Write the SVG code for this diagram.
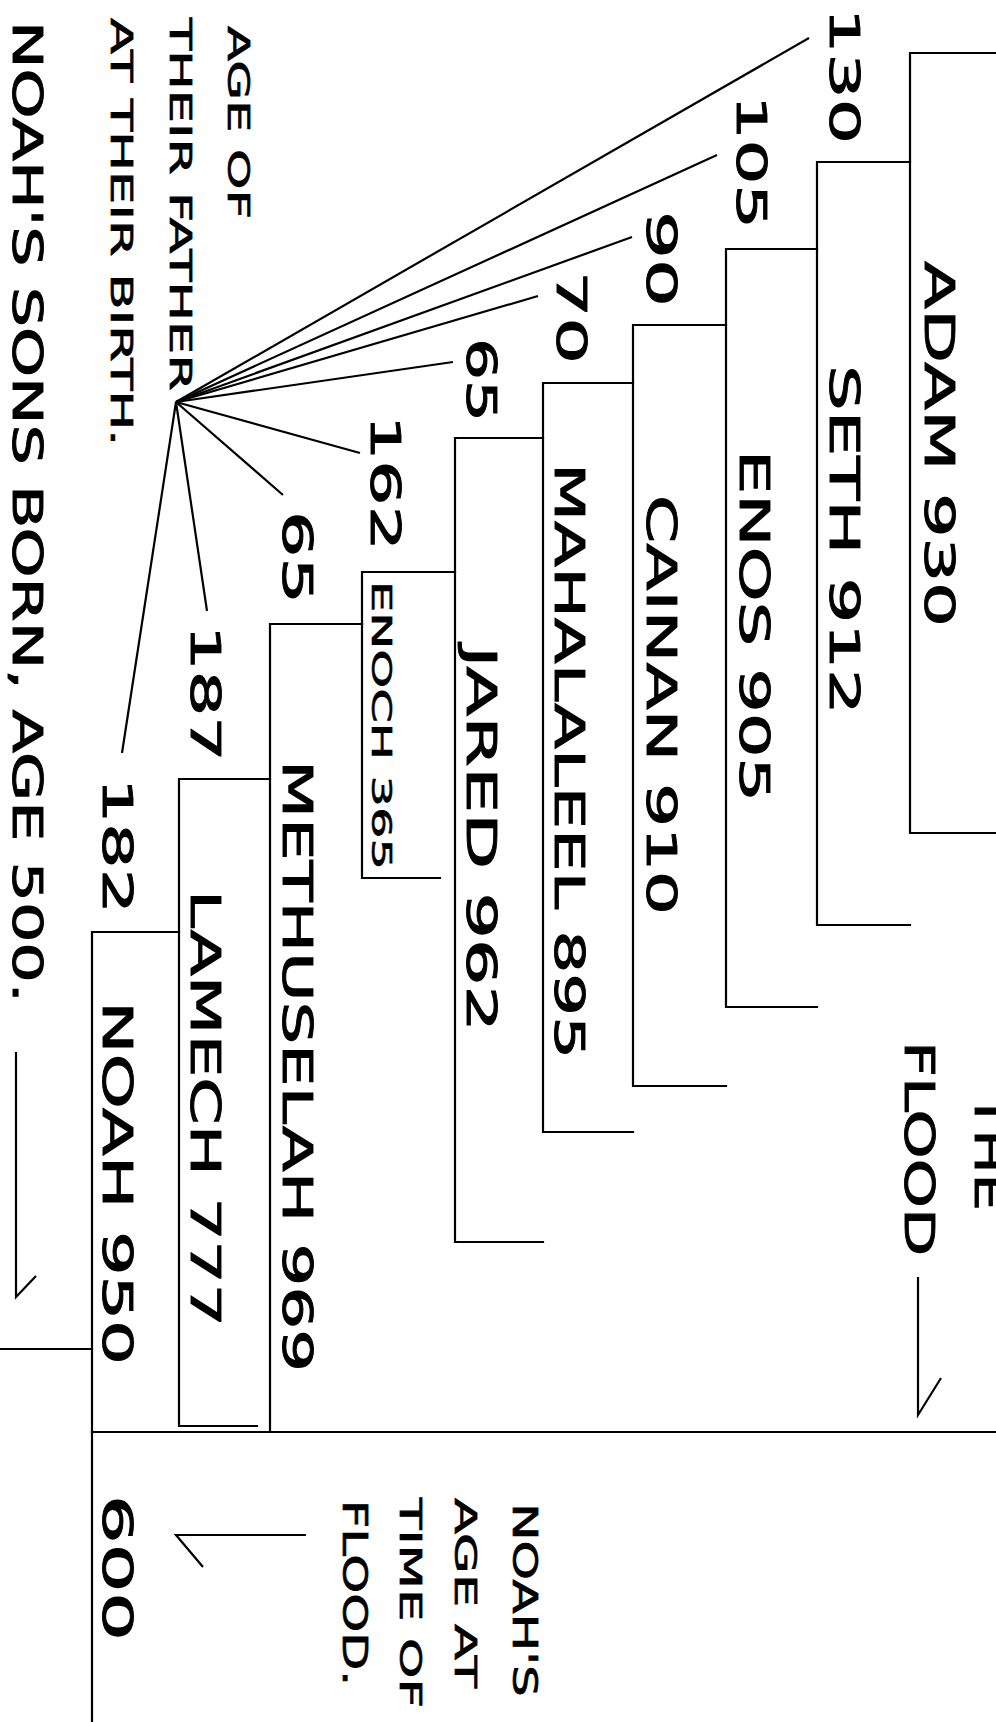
<svg xmlns="http://www.w3.org/2000/svg" width="996" height="1722" viewBox="0 0 996 1722">
<style>
  .ln { fill: none; stroke: #000; stroke-width: 2.2; stroke-linecap: square; }
  .fan { fill: none; stroke: #000; stroke-width: 2.2; }
  text { font-family: "DejaVu Sans", "Liberation Sans", sans-serif; fill: #000; stroke: #000; stroke-width: 0.9; }
  .name { font-size: 41px; }
  .lab { font-size: 31px; stroke-width: 0.7; }
  .enoch { font-size: 26px; stroke-width: 0.6; }
  .big { font-size: 40px; }
</style>
<rect x="0" y="0" width="996" height="1722" fill="#fff"/>

<g id="adam">
  <path class="ln" d="M996,53 H910 V833 H996"/>
  <text class="name" transform="translate(925,261) rotate(90)" textLength="366" lengthAdjust="spacingAndGlyphs">ADAM 930</text>
</g>
<g id="seth">
  <path class="ln" d="M910,162 H817 V925 H910"/>
  <text class="name" transform="translate(830,365) rotate(90)" textLength="350" lengthAdjust="spacingAndGlyphs">SETH 912</text>
</g>
<g id="enos">
  <path class="ln" d="M817,249 H726 V1007 H817"/>
  <text class="name" transform="translate(740,450) rotate(90)" textLength="352" lengthAdjust="spacingAndGlyphs">ENOS 905</text>
</g>
<g id="cainan">
  <path class="ln" d="M726,325 H633 V1086 H726"/>
  <text class="name" transform="translate(647,495) rotate(90)" textLength="420" lengthAdjust="spacingAndGlyphs">CAINAN 910</text>
</g>
<g id="mahalaleel">
  <path class="ln" d="M633,383 H543 V1132 H633"/>
  <text class="name" transform="translate(555,463) rotate(90)" textLength="596" lengthAdjust="spacingAndGlyphs">MAHALALEEL 895</text>
</g>
<g id="jared">
  <path class="ln" d="M543,438 H455 V1242 H543"/>
  <text class="name" transform="translate(467,646) rotate(90)" textLength="386" lengthAdjust="spacingAndGlyphs">JARED 962</text>
</g>
<g id="enoch">
  <path class="ln" d="M455,572 H362 V878 H440"/>
  <text class="enoch" transform="translate(372,581) rotate(90)" textLength="289" lengthAdjust="spacingAndGlyphs">ENOCH 365</text>
</g>
<g id="methuselah">
  <path class="ln" d="M362,624 H270 V1432"/>
  <text class="name" transform="translate(283,760) rotate(90)" textLength="612" lengthAdjust="spacingAndGlyphs">METHUSELAH 969</text>
</g>
<g id="lamech">
  <path class="ln" d="M270,779 H179 V1426 H257"/>
  <text class="name" transform="translate(191,890) rotate(90)" textLength="437" lengthAdjust="spacingAndGlyphs">LAMECH 777</text>
</g>
<g id="noah">
  <path class="ln" d="M179,932 H92 V1722"/>
  <path class="ln" d="M0,1349 H92"/>
  <text class="name" transform="translate(103,1001) rotate(90)" textLength="364" lengthAdjust="spacingAndGlyphs">NOAH 950</text>
</g>
<g id="flood">
  <path class="ln" d="M92,1432 H996"/>
  <text class="name" transform="translate(975,1093) rotate(90)" textLength="118" lengthAdjust="spacingAndGlyphs">THE</text>
  <text class="name" transform="translate(905,1041) rotate(90)" textLength="215" lengthAdjust="spacingAndGlyphs">FLOOD</text>
</g>

<g id="ages">
  <text class="name" transform="translate(830,8) rotate(90)" textLength="136" lengthAdjust="spacingAndGlyphs">130</text>
  <text class="name" transform="translate(737,95) rotate(90)" textLength="134" lengthAdjust="spacingAndGlyphs">105</text>
  <text class="name" transform="translate(647,211) rotate(90)" textLength="96" lengthAdjust="spacingAndGlyphs">90</text>
  <text class="name" transform="translate(557,271) rotate(90)" textLength="93" lengthAdjust="spacingAndGlyphs">70</text>
  <text class="name" transform="translate(467,338) rotate(90)" textLength="84" lengthAdjust="spacingAndGlyphs">65</text>
  <text class="name" transform="translate(371,415) rotate(90)" textLength="136" lengthAdjust="spacingAndGlyphs">162</text>
  <text class="name" transform="translate(283,511) rotate(90)" textLength="93" lengthAdjust="spacingAndGlyphs">65</text>
  <text class="name" transform="translate(191,625) rotate(90)" textLength="137" lengthAdjust="spacingAndGlyphs">187</text>
  <text class="name" transform="translate(103,778) rotate(90)" textLength="136" lengthAdjust="spacingAndGlyphs">182</text>
</g>

<g id="age-label">
  <text class="lab" font-size="33" transform="translate(228,26) rotate(90)" textLength="193" lengthAdjust="spacingAndGlyphs">AGE OF</text>
  <text class="lab" transform="translate(170,18) rotate(90)" textLength="373" lengthAdjust="spacingAndGlyphs">THEIR FATHER</text>
  <text class="lab" transform="translate(111,18) rotate(90)" textLength="428" lengthAdjust="spacingAndGlyphs">AT THEIR BIRTH.</text>
</g>

<g id="sons-label">
  <text class="big" transform="translate(13,21) rotate(90)" textLength="982" lengthAdjust="spacingAndGlyphs">NOAH'S SONS BORN, AGE 500.</text>
</g>

<g id="noah-flood-age">
  <text class="name" transform="translate(103,1495) rotate(90)" textLength="146" lengthAdjust="spacingAndGlyphs">600</text>
  <text class="lab" style="font-size:34px" transform="translate(513,1503) rotate(90)" textLength="194" lengthAdjust="spacingAndGlyphs">NOAH'S</text>
  <text class="lab" transform="translate(455,1498) rotate(90)" textLength="190" lengthAdjust="spacingAndGlyphs">AGE AT</text>
  <text class="lab" transform="translate(400,1498) rotate(90)" textLength="210" lengthAdjust="spacingAndGlyphs">TIME OF</text>
  <text class="lab" style="font-size:34px" transform="translate(343,1500) rotate(90)" textLength="186" lengthAdjust="spacingAndGlyphs">FLOOD.</text>
</g>

<g id="connectors">
  <path class="fan" d="M176,402 L809,38"/>
  <path class="fan" d="M176,402 L717,155"/>
  <path class="fan" d="M176,402 L632,237"/>
  <path class="fan" d="M176,402 L538,296"/>
  <path class="fan" d="M176,402 L453,362"/>
  <path class="fan" d="M176,402 L360,453"/>
  <path class="fan" d="M176,402 L283,495"/>
  <path class="fan" d="M176,402 L207,611"/>
  <path class="fan" d="M176,402 L122,753"/>
  <path class="fan" d="M918,1277 V1415 L941,1378"/>
  <path class="fan" d="M16,1052 V1297 L36,1276"/>
  <path class="fan" d="M306,1535 H176 L203,1567"/>
</g>
</svg>
